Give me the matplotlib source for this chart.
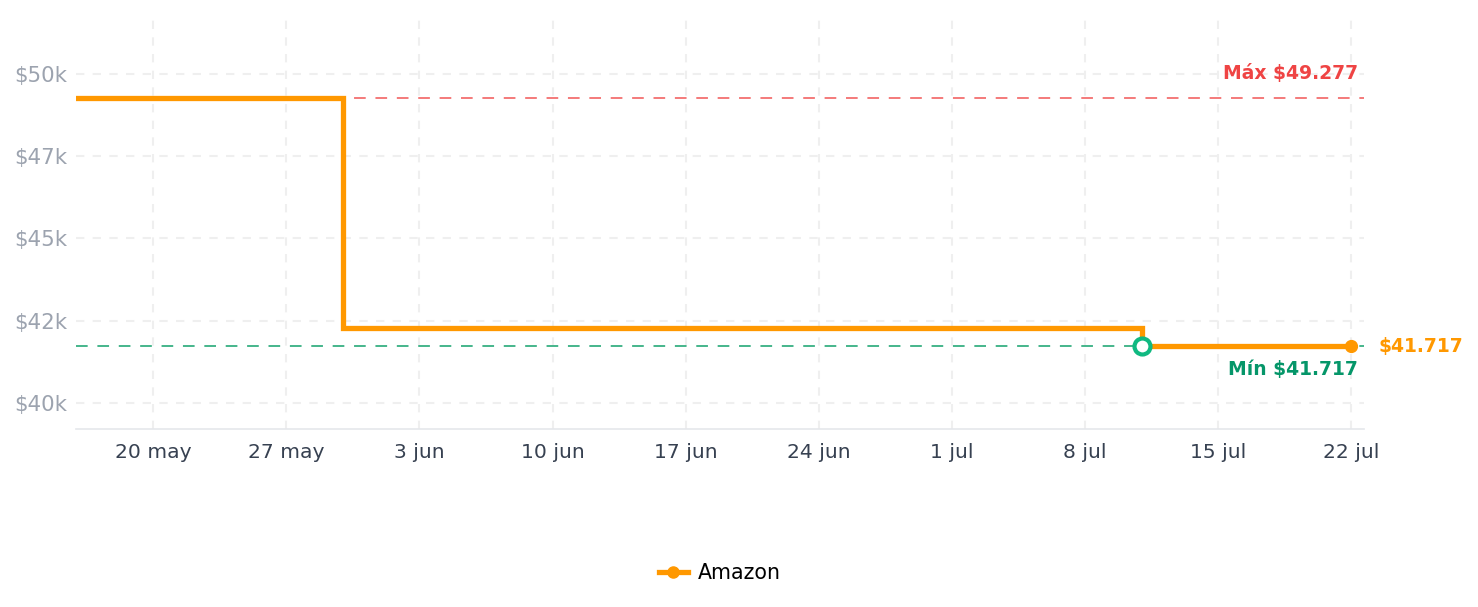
import numpy as np
import matplotlib
matplotlib.use("Agg")
import matplotlib.pyplot as plt
import matplotlib.dates as mdates
from matplotlib.lines import Line2D

# price history (step changes)
dates = np.array(["2024-05-16", "2024-05-30", "2024-07-11", "2024-07-22"], dtype="datetime64[D]")
prices = [49277, 42260, 41717, 41717]
max_price = 49277
min_price = 41717
min_date = np.datetime64("2024-07-11")

tick_dates = np.arange(np.datetime64("2024-05-20"), np.datetime64("2024-07-23"), 7)
tick_labels = ["20 may", "27 may", "3 jun", "10 jun", "17 jun", "24 jun",
               "1 jul", "8 jul", "15 jul", "22 jul"]
y_ticks = [40000, 42500, 45000, 47500, 50000]
y_labels = ["$40k", "$42k", "$45k", "$47k", "$50k"]

orange = "#ff9800"


def dn(d):
    return mdates.date2num(np.datetime64(d, "D").astype(object))


fig = plt.figure(figsize=(14.78, 6.07), dpi=100)
ax = fig.add_axes([76/1478, 1-429/607, (1364-76)/1478, (429-15)/607])

x = [dn(d) for d in dates]
ax.set_xlim(dn("2024-05-16") - 0.05, dn("2024-07-22") + 0.66)
ax.set_ylim(39195, 51810)

ax.axhline(max_price, color="#f47a7a", lw=1.4, dashes=(6, 5), zorder=2)
ax.axhline(min_price, color="#45b58b", lw=1.4, dashes=(6, 5), zorder=2)

ax.plot(x, prices, drawstyle="steps-post", color=orange, lw=3.8,
        solid_joinstyle="miter", zorder=3)
ax.plot(x[-1], prices[-1], "o", color=orange, ms=8.5, zorder=4)
ax.plot(dn(min_date), min_price, "o", mfc="white",
        mec="#10b981", mew=3, ms=11.5, zorder=5)

ax.set_xticks([dn(d) for d in tick_dates])
ax.set_xticklabels(tick_labels, color="#374151", fontsize=14.6)
ax.set_yticks(y_ticks)
ax.set_yticklabels(y_labels, color="#9ca3af", fontsize=15.4)
ax.tick_params(axis="both", length=0)
ax.tick_params(axis="x", pad=10)
ax.tick_params(axis="y", pad=6.5)

ax.grid(True, color="#efefef", lw=1.5, dashes=(4, 4))
for s in ["top", "right", "left"]:
    ax.spines[s].set_visible(False)
ax.spines["bottom"].set_color("#e5e7eb")
ax.spines["bottom"].set_linewidth(1.2)

ax.text(0.9955, max_price + 760, "Máx $49.277", transform=ax.get_yaxis_transform(),
        ha="right", va="center", color="#ef4444", fontsize=13.5, fontweight="bold")
ax.text(0.9955, min_price - 700, "Mín $41.717", transform=ax.get_yaxis_transform(),
        ha="right", va="center", color="#059669", fontsize=13.5, fontweight="bold")
ax.text(1.011, min_price, "$41.717", transform=ax.get_yaxis_transform(),
        ha="left", va="center", color=orange, fontsize=13.5, fontweight="bold")

handle = Line2D([], [], color=orange, lw=3.8, marker="o", ms=8)
fig.legend([handle], ["Amazon"], loc="center", bbox_to_anchor=(0.487, 1-573/607),
           frameon=False, fontsize=14.8, handlelength=1.4, handletextpad=0.5)

fig.savefig("out.png", dpi=100)
